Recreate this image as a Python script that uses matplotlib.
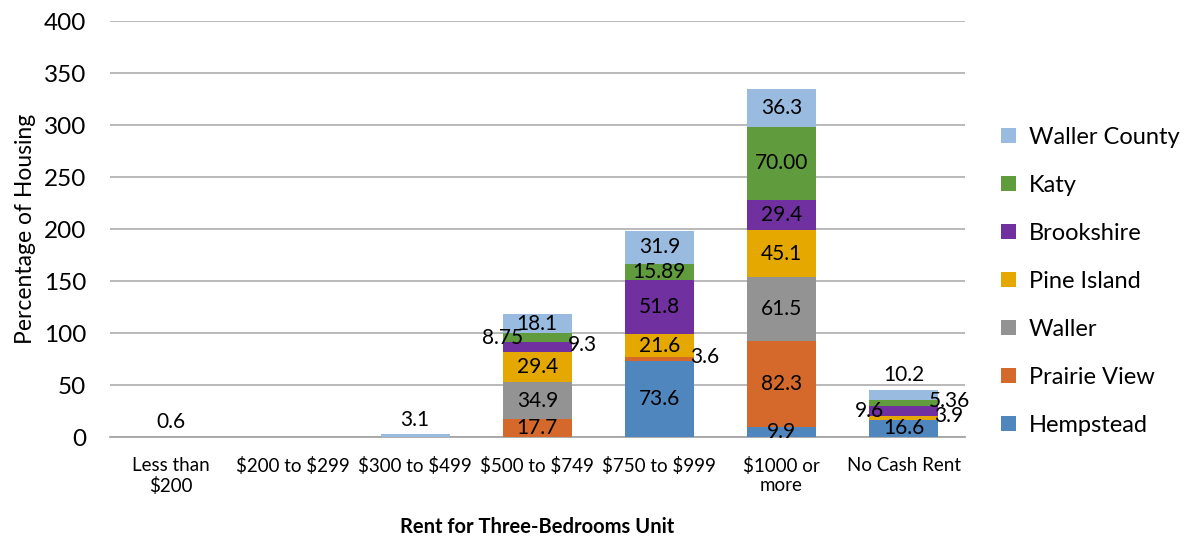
import matplotlib.pyplot as plt
import numpy as np

plt.rcParams['font.family'] = ['Lato', 'DejaVu Sans']
plt.rcParams['text.parse_math'] = False

categories = ["Less than\n$200", "$200 to $299", "$300 to $499", "$500 to $749",
              "$750 to $999", "$1000 or\nmore", "No Cash Rent"]

hempstead = [0, 0, 0, 0, 73.6, 9.9, 16.6]
prairie_view = [0, 0, 0, 17.7, 3.6, 82.3, 0]
waller = [0, 0, 0, 34.9, 0, 61.5, 0]
pine_island = [0, 0, 0, 29.4, 21.6, 45.1, 3.9]
brookshire = [0, 0, 0, 9.3, 51.8, 29.4, 9.6]
katy = [0, 0, 0, 8.75, 15.89, 70.00, 5.36]
waller_county = [0.6, 0, 3.1, 18.1, 31.9, 36.3, 10.2]

label_text = {
    "Katy": ["", "", "", "8.75", "15.89", "70.00", "5.36"],
}

series = [
    ("Hempstead", hempstead, "#4f86be"),
    ("Prairie View", prairie_view, "#d5692b"),
    ("Waller", waller, "#939393"),
    ("Pine Island", pine_island, "#e5a800"),
    ("Brookshire", brookshire, "#7030a0"),
    ("Katy", katy, "#609b3e"),
    ("Waller County", waller_county, "#9abbe0"),
]

# where small labels sit relative to their segment
placement = {
    ("Katy", 3): "left", ("Brookshire", 3): "right",
    ("Prairie View", 4): "right",
    ("Brookshire", 6): "left", ("Katy", 6): "right", ("Pine Island", 6): "right",
    ("Waller County", 6): "above", ("Waller County", 0): "above",
    ("Waller County", 2): "above",
}

fig = plt.figure(figsize=(12.02, 5.39), dpi=100)
ax = fig.add_axes([0.0915, 0.189, 0.711, 0.772])

x = np.arange(len(categories))
width = 0.565
bottom = np.zeros(len(categories))
handles = []
for name, vals, color in series:
    vals = np.array(vals, dtype=float)
    bars = ax.bar(x, vals, width, bottom=bottom, color=color, label=name, zorder=3)
    handles.append(bars)
    for i, v in enumerate(vals):
        if v == 0:
            continue
        txt = label_text.get(name, [None] * 7)[i] or f"{v:g}"
        mid = bottom[i] + v / 2
        pos = placement.get((name, i), "center")
        if pos == "center":
            ax.text(x[i], mid, txt, ha="center", va="center", fontsize=15, zorder=4)
        elif pos == "left":
            ax.text(x[i] - width / 2, mid, txt, ha="center", va="center", fontsize=15, zorder=4)
        elif pos == "right":
            ax.text(x[i] + width / 2 + 0.09, mid + 1.5, txt, ha="center", va="center", fontsize=15, zorder=4)
        else:
            ax.annotate(txt, (x[i], bottom[i] + v), xytext=(0, 3), textcoords="offset points",
                        ha="center", va="bottom", fontsize=15, zorder=4)
    bottom += vals

ax.set_ylim(0, 400)
ax.set_xlim(-0.5, len(categories) - 0.5)
ax.set_yticks(range(0, 401, 50))
ax.set_xticks(x)
ax.set_xticklabels(categories, fontsize=13.5, linespacing=1.2)
ax.tick_params(axis="y", labelsize=17.5, length=0, pad=17)
ax.tick_params(axis="x", length=0, pad=14)
ax.yaxis.grid(True, color="#b3b3b3", linewidth=1.3, zorder=0)
for s in ["top", "right", "left"]:
    ax.spines[s].set_visible(False)
ax.spines["bottom"].set_color("#a6a6a6")
ax.spines["bottom"].set_linewidth(1.3)

ax.set_ylabel("Percentage of Housing", fontsize=16.5, labelpad=6)
ax.set_xlabel("Rent for Three-Bedrooms Unit", fontsize=14.5, fontweight="bold", labelpad=16)

fig.legend(handles[::-1], [s[0] for s in series][::-1], loc="center left",
           bbox_to_anchor=(0.815, 0.478), frameon=False, fontsize=17,
           handlelength=0.62, handleheight=0.62, handletextpad=0.55, labelspacing=1.14)

fig.savefig("out.png", dpi=100)
